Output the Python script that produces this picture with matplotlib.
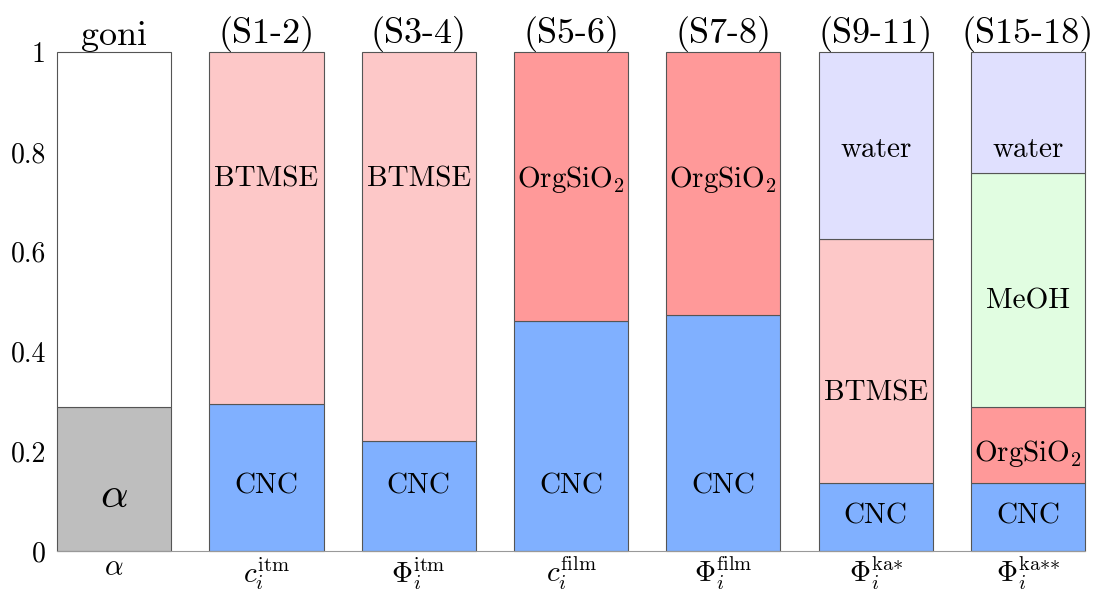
import numpy as np
import matplotlib.pyplot as plt

plt.rcParams['font.family'] = 'cmr10'
plt.rcParams['mathtext.fontset'] = 'cm'
plt.rcParams['axes.formatter.use_mathtext'] = True

# data
xlabels = [r'$\alpha$', r'$c_i^{\mathrm{itm}}$', r'$\Phi_i^{\mathrm{itm}}$',
           r'$c_i^{\mathrm{film}}$', r'$\Phi_i^{\mathrm{film}}$',
           r'$\Phi_i^{\mathrm{ka}{*}}$', r'$\Phi_i^{\mathrm{ka}{*}{*}}$']
toplabels = ['goni', '(S1-2)', '(S3-4)', '(S5-6)', '(S7-8)', '(S9-11)', '(S15-18)']

alpha = [0.288, 0, 0, 0, 0, 0, 0]
blank = [0.712, 0, 0, 0, 0, 0, 0]
cnc = [0, 0.295, 0.220, 0.461, 0.473, 0.136, 0.136]
orgsio2 = [0, 0, 0, 0.539, 0.527, 0, 0.153]
btmse = [0, 0.705, 0.780, 0, 0, 0.489, 0]
meoh = [0, 0, 0, 0, 0, 0, 0.469]
water = [0, 0, 0, 0, 0, 0.375, 0.242]

layers = [
    (alpha, '#bebebe'),
    (blank, 'white'),
    (cnc, '#80b0ff'),
    (orgsio2, '#ff9999'),
    (btmse, '#fdc8c8'),
    (meoh, '#e1fde1'),
    (water, '#e0e0fe'),
]

# in-bar text: (bar, y, text, size)
notes = [
    (0, 0.11, r'$\alpha$', 31),
    (1, 0.13, 'CNC', 21), (1, 0.745, 'BTMSE', 21),
    (2, 0.13, 'CNC', 21), (2, 0.745, 'BTMSE', 21),
    (3, 0.13, 'CNC', 21), (3, 0.745, r'Org$\mathrm{SiO_2}$', 21),
    (4, 0.13, 'CNC', 21), (4, 0.745, r'Org$\mathrm{SiO_2}$', 21),
    (5, 0.07, 'CNC', 21), (5, 0.315, 'BTMSE', 21), (5, 0.805, 'water', 21),
    (6, 0.07, 'CNC', 21), (6, 0.195, r'Org$\mathrm{SiO_2}$', 21),
    (6, 0.50, 'MeOH', 21), (6, 0.805, 'water', 21),
]

fig = plt.figure(figsize=(10.95, 5.93), dpi=100)
ax = fig.add_axes([0.052, 0.071, 0.939, 0.841])

x = np.arange(len(xlabels))
bottom = np.zeros(len(x))
for vals, col in layers:
    vals = np.array(vals, dtype=float)
    m = vals > 0
    ax.bar(x[m], vals[m], bottom=bottom[m], width=0.75, color=col,
           edgecolor='#555555', linewidth=0.8, clip_on=False, zorder=2)
    bottom += vals

for i, y, t, s in notes:
    ax.text(i, y, t, ha='center', va='center', fontsize=s, zorder=3)

ax.set_xlim(-0.375, 6.375)
ax.set_ylim(0, 1)
ax.set_yticks([0, 0.2, 0.4, 0.6, 0.8, 1])
ax.set_yticklabels(['0', '0.2', '0.4', '0.6', '0.8', '1'])
ax.set_xticks(x)
ax.set_xticklabels(xlabels)
ax.tick_params(axis='y', length=0, labelsize=20, pad=8)
ax.tick_params(axis='x', length=0, labelsize=21, pad=3)
for s in ['top', 'right', 'left']:
    ax.spines[s].set_visible(False)
ax.spines['bottom'].set_color('#999999')

sec = ax.secondary_xaxis('top')
sec.set_xticks(x)
sec.set_xticklabels(toplabels)
sec.tick_params(length=0, labelsize=26, pad=0)
sec.spines['top'].set_visible(False)

fig.savefig('out.png', dpi=100)
